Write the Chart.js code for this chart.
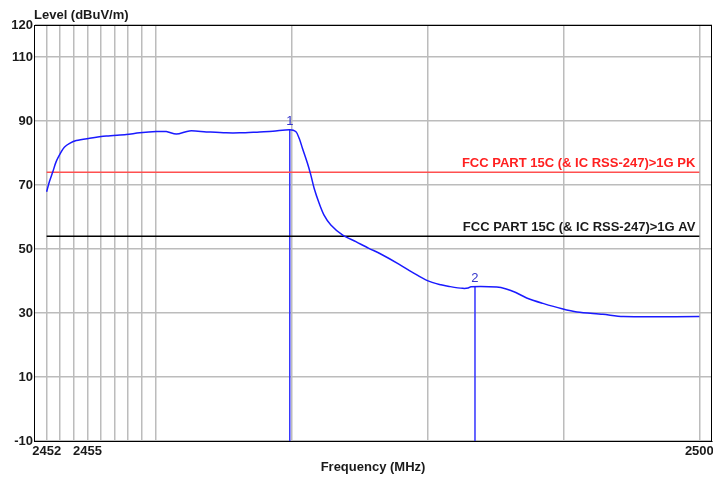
<!DOCTYPE html>
<html>
<head>
<meta charset="utf-8">
<script src="https://cdn.jsdelivr.net/npm/chart.js@4"></script>
<style>
  html, body { margin: 0; padding: 0; background: #fff; }
  #wrap { width: 713px; height: 477px; }
</style>
</head>
<body>
<div id="wrap"><canvas id="emc"></canvas></div>
<script>
// trace data (MHz / dBuV/m)
const freqs = [2452, 2452.2, 2452.46, 2452.7, 2453.08, 2453.3, 2453.69, 2454.18, 2455.16, 2456.39,
  2457.86, 2458.84, 2460.07, 2460.8, 2461.54, 2462.5, 2463.74, 2465.2, 2466.2, 2467.66,
  2468.64, 2469.88, 2470.32, 2470.57, 2470.81, 2471.18, 2471.43, 2471.67, 2472.04, 2472.4,
  2472.9, 2473.75, 2474.74, 2475.7, 2476.5, 2477.9, 2478.9, 2480.0, 2481.0, 2481.6,
  2482.6, 2483.0, 2483.2, 2485.1, 2485.8, 2486.5, 2487.3, 2488.5, 2489.9, 2491.0,
  2492.9, 2494.4, 2500];
const levels = [67.9, 71.0, 74.2, 77.3, 80.4, 81.8, 83.0, 83.9, 84.6, 85.3,
  85.8, 86.3, 86.7, 86.7, 85.9, 86.9, 86.6, 86.3, 86.3, 86.6,
  86.8, 87.3, 86.7, 84.6, 81.5, 76.8, 73.1, 69.0, 64.3, 60.6,
  57.5, 54.4, 52.3, 50.2, 48.6, 45.3, 42.7, 40.1, 38.8, 38.3,
  37.7, 37.8, 38.2, 38.1, 37.5, 36.4, 34.7, 33.0, 31.3, 30.3,
  29.6, 28.9, 28.9];

// limits
const limitNames = ["FCC PART 15C (& IC RSS-247)>1G PK", "FCC PART 15C (& IC RSS-247)>1G AV"];
const limitValues = [74, 54];
const limitColors = ["#ff5050", "#000000"];
const limitTextColors = ["#ff2020", "#1a1a1a"];

// markers
const markerNames = ["1", "2"];
const markerFreqs = [2469.88, 2483.5];
const markerLevels = [87.3, 38.2];

// axis ticks
const xTicks = [2452, 2453, 2454, 2455, 2456, 2457, 2458, 2459, 2460, 2470, 2480, 2490, 2500];
const xLabels = [2452, 2455, 2500];
const yTicks = [-10, 10, 30, 50, 70, 90, 110, 120];

const fMin = 2452, fMax = 2500;
const font = "'Liberation Sans', Arial, sans-serif";

let datasets = [];
datasets.push({
  data: freqs.map((f, i) => ({ x: f, y: levels[i] })),
  borderColor: "#1a1aff",
  borderWidth: 1.5,
  tension: 0.3
});
limitValues.forEach((v, i) => {
  datasets.push({
    data: [{ x: fMin, y: v }, { x: fMax, y: v }],
    borderColor: limitColors[i],
    borderWidth: 1.5
  });
});
markerFreqs.forEach((f, i) => {
  datasets.push({
    data: [{ x: f, y: markerLevels[i] }, { x: f, y: -10 }],
    borderColor: "#3333ff",
    borderWidth: 1.5
  });
});

// frame, titles, limit and marker labels
const extras = {
  id: "extras",
  afterDatasetsDraw(chart) {
    const c = chart.ctx, a = chart.chartArea;
    const xs = chart.scales.x, ys = chart.scales.y;
    c.save();
    c.strokeStyle = "#000";
    c.lineWidth = 1;
    c.strokeRect(a.left + 0.5, a.top + 0.5, a.right - a.left - 1, a.bottom - a.top);

    c.font = "bold 13px " + font;
    c.fillStyle = "#1a1a1a";
    c.textBaseline = "middle";
    c.textAlign = "left";
    c.fillText("Level (dBuV/m)", a.left, 15);
    c.textAlign = "center";
    c.fillText("Frequency (MHz)", 373, 467);

    c.textAlign = "right";
    limitNames.forEach((n, i) => {
      c.fillStyle = limitTextColors[i];
      c.fillText(n, xs.getPixelForValue(fMax) - 4, ys.getPixelForValue(limitValues[i]) - 9);
    });

    c.font = "13px " + font;
    c.fillStyle = "#3333cc";
    c.textAlign = "center";
    markerNames.forEach((n, i) => {
      c.fillText(n, xs.getPixelForValue(markerFreqs[i]), ys.getPixelForValue(markerLevels[i]) - 8);
    });
    c.restore();
  }
};

new Chart(document.getElementById("emc"), {
  type: "scatter",
  data: { datasets: datasets },
  options: {
    responsive: true,
    maintainAspectRatio: false,
    animation: false,
    showLine: true,
    elements: { point: { radius: 0 }, line: { tension: 0 } },
    layout: { padding: { top: 25, right: 1, left: 0, bottom: 0 } },
    plugins: { legend: { display: false }, tooltip: { enabled: false } },
    scales: {
      x: {
        type: "linear",
        min: 2451.07,
        max: 2500.93,
        afterBuildTicks(scale) { scale.ticks = xTicks.map(v => ({ value: v })); },
        afterFit(scale) {
          scale.height = 36;
          scale.paddingLeft = 0;
          scale.paddingRight = 0;
        },
        ticks: {
          autoSkip: false,
          maxRotation: 0,
          padding: 3,
          color: "#1a1a1a",
          font: { family: font, size: 13, weight: "bold" },
          callback: v => xLabels.includes(v) ? String(v) : ""
        },
        grid: { color: "#bcbcbc", lineWidth: 1.5, drawTicks: false },
        border: { color: "#000", width: 1 }
      },
      y: {
        min: -10,
        max: 120,
        afterBuildTicks(scale) { scale.ticks = yTicks.map(v => ({ value: v })); },
        afterFit(scale) {
          scale.width = 34;
          scale.paddingTop = 0;
          scale.paddingBottom = 0;
        },
        ticks: {
          autoSkip: false,
          padding: 1,
          color: "#1a1a1a",
          font: { family: font, size: 13, weight: "bold" }
        },
        grid: { color: "#bcbcbc", lineWidth: 1.5, drawTicks: false },
        border: { color: "#000", width: 1 }
      }
    }
  },
  plugins: [extras]
});
</script>
</body>
</html>
